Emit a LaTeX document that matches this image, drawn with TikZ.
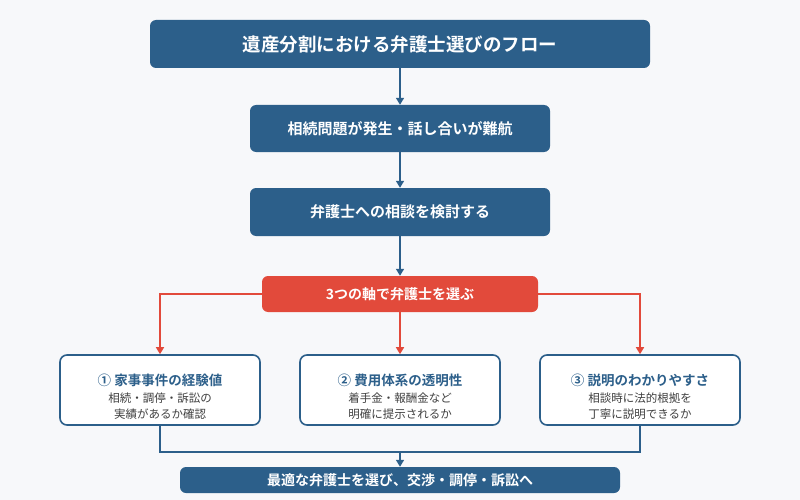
\documentclass[tikz,border=0pt]{standalone}
\usepackage{fontspec}
\newfontfamily\jp{Noto Sans CJK JP}
\newfontfamily\jpb{Noto Sans CJK JP Bold}
\usetikzlibrary{arrows.meta}
\definecolor{dblue}{HTML}{2C5F8A}
\definecolor{cred}{HTML}{E24A3B}
\definecolor{bg}{HTML}{F7F8FA}
\begin{document}
\begin{tikzpicture}[x=1pt,y=-1pt,
 main/.style={fill=dblue,rounded corners=6pt,text=white,font=\jpb\fontsize{15}{17}\selectfont,inner sep=0pt},
 card/.style={draw=dblue,line width=1.6pt,fill=white,rounded corners=7pt,inner sep=0pt},
 arr/.style={-{Triangle[length=7pt,width=8pt]},line width=1.6pt},
 lb/.style={draw=dblue,arr},
 lr/.style={draw=cred,arr}]
\fill[bg] (0,0) rectangle (800,500);
\useasboundingbox (0,0) rectangle (800,500);
\node[main,minimum width=500pt,minimum height=48pt,font=\jpb\fontsize{18.5}{20}\selectfont] (t) at (400,44) {遺産分割における弁護士選びのフロー};
\node[main,minimum width=300pt,minimum height=47pt] (a) at (400,128.5) {相続問題が発生・話し合いが難航};
\node[main,minimum width=300pt,minimum height=48pt] (b) at (400,212) {弁護士への相談を検討する};
\node[main,fill=cred,minimum width=276pt,minimum height=36pt,font=\jpb\fontsize{14}{16}\selectfont] (r) at (400,294) {3つの軸で弁護士を選ぶ};
\foreach \n/\x/\h/\la/\lb in {c1/160/① 家事事件の経験値/相続・調停・訴訟の/実績があるか確認, c2/400/② 費用体系の透明性/着手金・報酬金など/明確に提示されるか, c3/640/③ 説明のわかりやすさ/相談時に法的根拠を/丁寧に説明できるか}{
 \node[card,minimum width=200pt,minimum height=70pt] (\n) at (\x,390) {};
 \node[font=\jpb\fontsize{13.5}{15}\selectfont,text=dblue] (\n h) at (\x,380) {\h};
 \node[font=\jp\fontsize{11.5}{16}\selectfont,text=black!75,align=center] (\n t) at (\x,406) {\la\\\lb};
}
\node[main,minimum width=440pt,minimum height=26pt,font=\jpb\fontsize{14}{16}\selectfont] (e) at (400,480) {最適な弁護士を選び、交渉・調停・訴訟へ};
\draw[lb] (t) -- (a);
\draw[lb] (a) -- (b);
\draw[lb] (b) -- (r);
\draw[lr] (r.west) -| (c1.north);
\draw[lr] (r.south) -- (c2.north);
\draw[lr] (r.east) -| (c3.north);
\coordinate (j) at (400,452);
\draw[dblue,line width=1.6pt] (c1.south) |- (j) -| (c3.south);
\draw[lb] (j) -- (e);
\end{tikzpicture}
\end{document}
